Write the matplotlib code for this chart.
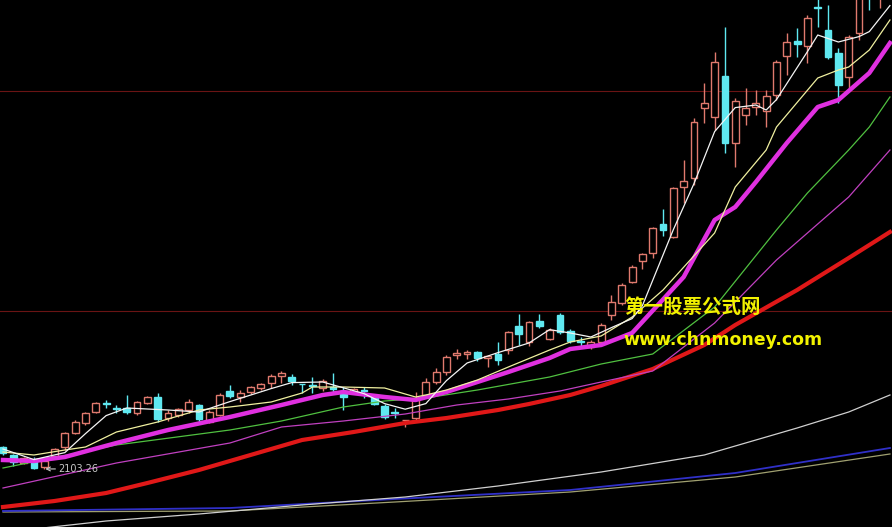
import matplotlib
matplotlib.use("Agg")
import matplotlib.pyplot as plt
import numpy as np

# daily candles (index points)
opens = [2213, 2173, 2133, 2143, 2113, 2168, 2213, 2283, 2333, 2388,
         2431, 2408, 2408, 2383, 2433, 2463, 2358, 2373, 2398, 2423,
         2338, 2373, 2493, 2463, 2488, 2508, 2533, 2568, 2563, 2529,
         2521, 2508, 2513, 2478, 2488, 2496, 2463, 2418, 2386, 2346,
         2358, 2473, 2538, 2588, 2673, 2678, 2688, 2658, 2678, 2698,
         2818, 2738, 2843, 2753, 2873, 2793, 2741, 2713, 2738, 2873,
         2933, 3038, 3143, 3183, 3328, 3263, 3513, 3558, 3908, 3863,
         4068, 3733, 3873, 3913, 3893, 3973, 4168, 4243, 4218, 4411,
         4298, 4183, 4063, 4283, 4580, 4470]
highs = [2218, 2178, 2163, 2163, 2158, 2208, 2288, 2348, 2388, 2438,
         2448, 2423, 2473, 2443, 2468, 2483, 2398, 2408, 2453, 2428,
         2398, 2483, 2523, 2498, 2518, 2533, 2578, 2593, 2578, 2530,
         2563, 2553, 2583, 2513, 2508, 2513, 2473, 2428, 2408, 2350,
         2488, 2558, 2608, 2673, 2703, 2698, 2693, 2673, 2738, 2793,
         2878, 2843, 2878, 2808, 2883, 2803, 2763, 2748, 2833, 2973,
         3033, 3123, 3183, 3313, 3403, 3513, 3648, 3858, 4033, 4188,
         4313, 3958, 4008, 3998, 3998, 4148, 4283, 4308, 4373, 4460,
         4423, 4208, 4273, 4520, 4600, 4580]
lows = [2173, 2118, 2128, 2105, 2103.26, 2163, 2198, 2278, 2323, 2383,
        2408, 2383, 2378, 2373, 2428, 2338, 2343, 2363, 2383, 2328,
        2333, 2368, 2458, 2438, 2478, 2498, 2508, 2533, 2523, 2483,
        2483, 2493, 2488, 2398, 2483, 2458, 2423, 2353, 2358, 2313,
        2348, 2463, 2528, 2573, 2653, 2653, 2643, 2613, 2623, 2678,
        2723, 2718, 2808, 2748, 2778, 2733, 2718, 2703, 2723, 2848,
        2923, 3033, 3103, 3158, 3268, 3258, 3433, 3523, 3833, 3798,
        3683, 3613, 3823, 3873, 3813, 3948, 4073, 4163, 4133, 4313,
        4153, 3933, 4008, 4248, 4398, 4408]
closes = [2183, 2138, 2158, 2108, 2143, 2203, 2283, 2338, 2383, 2433,
          2426, 2403, 2388, 2438, 2463, 2353, 2383, 2403, 2438, 2353,
          2388, 2473, 2468, 2483, 2513, 2528, 2568, 2583, 2543, 2526,
          2516, 2543, 2503, 2463, 2503, 2491, 2428, 2363, 2381, 2348,
          2458, 2538, 2588, 2663, 2683, 2688, 2658, 2668, 2648, 2788,
          2778, 2838, 2818, 2798, 2788, 2743, 2736, 2738, 2823, 2938,
          3023, 3113, 3178, 3308, 3298, 3508, 3543, 3838, 3933, 4138,
          3733, 3943, 3908, 3933, 3968, 4138, 4238, 4228, 4358, 4406,
          4163, 4023, 4263, 4480, 4490, 4560]

# moving average lines, read at sample bars
ma5_idx = [0, 3, 6, 8, 10, 12, 16, 19, 22, 26, 28, 31, 35, 37, 39, 41, 43, 45, 48,
           51, 53, 55, 57, 59, 61, 62, 65, 67, 69, 71, 73, 74, 75, 78, 79, 81, 83, 84, 86]
ma5_val = [2203, 2150, 2185, 2280, 2370, 2408, 2398, 2388, 2440, 2505, 2535, 2538, 2480,
           2430, 2402, 2430, 2545, 2633, 2685, 2733, 2800, 2783, 2763, 2810, 2855, 2920,
           3300, 3530, 3790, 3910, 3923, 3898, 3950, 4190, 4273, 4238, 4265, 4290, 4420]
ma10_idx = [0, 3, 6, 8, 11, 15, 19, 22, 26, 29, 30, 33, 37, 40, 41, 43, 46, 49, 53,
            55, 58, 61, 64, 69, 71, 74, 75, 79, 81, 82, 84, 86]
ma10_val = [2188, 2173, 2198, 2213, 2288, 2338, 2398, 2413, 2438, 2483, 2513, 2513, 2508,
            2463, 2473, 2498, 2548, 2613, 2698, 2738, 2768, 2863, 2998, 3283, 3513, 3698,
            3813, 4058, 4098, 4113, 4198, 4348]
ma20_idx = [0, 3, 6, 11, 16, 22, 27, 31, 33, 37, 40, 43, 46, 49, 53, 55, 58, 61, 66,
            69, 71, 73, 76, 79, 81, 84, 86]
ma20_val = [2148, 2143, 2163, 2233, 2298, 2363, 2423, 2473, 2488, 2463, 2448, 2488, 2538,
            2588, 2658, 2703, 2723, 2783, 3063, 3348, 3413, 3538, 3733, 3913, 3948, 4083, 4233]
ma30_idx = [0, 11, 22, 27, 33, 37, 41, 46, 53, 58, 63, 69, 75, 78, 82, 84, 86]
ma30_val = [2108, 2223, 2298, 2343, 2413, 2443, 2458, 2498, 2563, 2628, 2678, 2913, 3298,
            3483, 3698, 3813, 3963]
ma60_idx = [0, 11, 22, 27, 33, 39, 44, 49, 54, 58, 63, 69, 75, 82, 86]
ma60_val = [2008, 2133, 2233, 2313, 2343, 2378, 2423, 2453, 2493, 2538, 2593, 2833, 3148,
            3463, 3698]
ma120_idx = [0, 5, 10, 14, 19, 24, 29, 34, 39, 43, 48, 51, 55, 58, 63, 68, 71, 77, 82, 86]
ma120_val = [1913, 1943, 1983, 2033, 2098, 2173, 2248, 2288, 2333, 2358, 2398, 2428,
             2473, 2518, 2603, 2723, 2823, 2998, 3158, 3288]
ma250_idx = [3, 10, 19, 29, 39, 48, 58, 68, 77, 82, 86]
ma250_val = [1803, 1843, 1878, 1923, 1963, 2018, 2088, 2173, 2308, 2388, 2473]
blue_idx = [0, 22, 38, 55, 71, 86]
blue_val = [1893, 1908, 1953, 1998, 2083, 2208]
khaki_idx = [0, 22, 38, 55, 71, 86]
khaki_val = [1888, 1893, 1938, 1988, 2063, 2178]

grid_levels = [3993, 2893]
low_label = "2103.26"

up_color = "#e07a6e"
down_color = "#5fe8f0"

fig = plt.figure(figsize=(8.92, 5.27), dpi=100)
fig.patch.set_facecolor("black")
ax = fig.add_axes([0, 0, 1, 1])
ax.set_facecolor("black")

for g in grid_levels:
    ax.axhline(g, color="#6a1414", lw=0.8, zorder=1)

o = np.array(opens, dtype=float)
h = np.array(highs, dtype=float)
l = np.array(lows, dtype=float)
c = np.array(closes, dtype=float)
x = np.arange(len(o))
up = c >= o
w = 0.66

# candles
top = np.maximum(o, c)
bot = np.minimum(o, c)
ax.vlines(x[up], top[up], h[up], color=up_color, lw=1, zorder=3)
ax.vlines(x[up], l[up], bot[up], color=up_color, lw=1, zorder=3)
ax.bar(x[up], top[up] - bot[up], bottom=bot[up], width=w, facecolor="black",
       edgecolor=up_color, lw=1, zorder=3)
ax.vlines(x[~up], l[~up], h[~up], color=down_color, lw=1, zorder=3)
ax.bar(x[~up], top[~up] - bot[~up], bottom=bot[~up], width=w, color=down_color,
       edgecolor=down_color, lw=1, zorder=3)

# moving averages
ax.plot(khaki_idx, khaki_val, color="#a0a070", lw=0.9, zorder=2)
ax.plot(blue_idx, blue_val, color="#3030c8", lw=1.3, zorder=2)
ax.plot(ma250_idx, ma250_val, color="#d0d0d0", lw=0.9, zorder=2)
ax.plot(ma120_idx, ma120_val, color="#e01818", lw=3, zorder=4)
ax.plot(ma60_idx, ma60_val, color="#c040c0", lw=0.9, zorder=4)
ax.plot(ma30_idx, ma30_val, color="#50c040", lw=0.9, zorder=4)
ax.plot(ma20_idx, ma20_val, color="#e030e0", lw=3.2, zorder=4)
ax.plot(ma10_idx, ma10_val, color="#f0f0a0", lw=0.9, zorder=5)
ax.plot(ma5_idx, ma5_val, color="#f4f4f4", lw=0.9, zorder=5)

# lowest point label
imin = int(np.argmin(l))
ax.annotate(low_label, xy=(imin + 0.1, l[imin]), xytext=(imin + 1.35, l[imin]),
            color="#c8c8c8", fontsize=7, va="center", ha="left",
            arrowprops=dict(arrowstyle="->", color="#c8c8c8", lw=0.8,
                            shrinkA=0, shrinkB=0), zorder=6)

# watermark
ax.text(60.2, 2913, "第一股票公式网", color="#f2f200", fontsize=14, fontweight="bold",
        family=["Noto Sans CJK SC", "DejaVu Sans"], va="center", ha="left", zorder=7)
ax.text(60.2, 2748, "www.chnmoney.com", color="#f2f200", fontsize=12.5,
        fontweight="bold", va="center", ha="left", zorder=7)

ax.set_xlim(-0.29, 86.2)
ax.set_ylim(1813, 4448)
ax.axis("off")

fig.savefig("out.png", dpi=100, facecolor="black")
